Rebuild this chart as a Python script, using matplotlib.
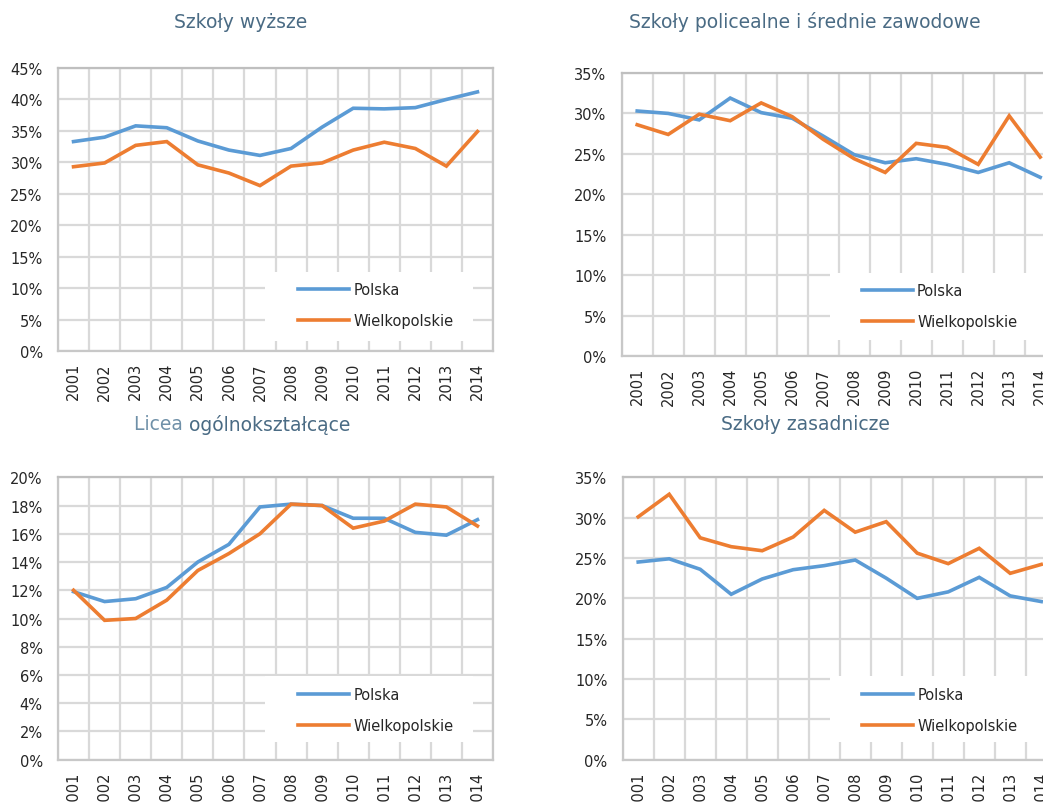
import matplotlib
matplotlib.use("Agg")
import matplotlib.pyplot as plt
from matplotlib.patches import Rectangle
from matplotlib.lines import Line2D
from matplotlib.ticker import MultipleLocator, FuncFormatter

years = [str(y) for y in range(2001, 2015)]

wyzsze_polska = [33.3, 34.0, 35.8, 35.5, 33.4, 31.95, 31.1, 32.2, 35.6, 38.6, 38.5, 38.7, 40.0, 41.2]
wyzsze_wlkp = [29.3, 29.9, 32.7, 33.3, 29.6, 28.3, 26.3, 29.4, 29.9, 31.95, 33.2, 32.2, 29.4, 34.9]

policealne_polska = [30.3, 30.0, 29.2, 31.9, 30.1, 29.4, 27.2, 24.9, 23.9, 24.4, 23.7, 22.7, 23.9, 22.1]
policealne_wlkp = [28.6, 27.4, 29.9, 29.1, 31.3, 29.6, 26.8, 24.4, 22.7, 26.3, 25.8, 23.7, 29.7, 24.6]

licea_polska = [11.9, 11.2, 11.4, 12.2, 14.0, 15.25, 17.9, 18.1, 18.0, 17.1, 17.1, 16.1, 15.9, 17.0]
licea_wlkp = [12.0, 9.87, 10.0, 11.3, 13.4, 14.6, 16.0, 18.1, 18.0, 16.4, 16.9, 18.1, 17.9, 16.55]

zasadnicze_polska = [24.5, 24.9, 23.6, 20.5, 22.4, 23.55, 24.05, 24.75, 22.5, 20.0, 20.8, 22.6, 20.3, 19.6]
zasadnicze_wlkp = [30.1, 32.9, 27.5, 26.4, 25.9, 27.6, 30.9, 28.2, 29.5, 25.6, 24.3, 26.2, 23.1, 24.2]

series_names = ["Polska", "Wielkopolskie"]

BLUE = "#5B9BD5"
ORANGE = "#ED7D31"
GRID = "#d9d9d9"
TITLE_C = "#4A6B84"
TEXT_C = "#262626"
LW = 2.6

W, H = 1043, 804
fig = plt.figure(figsize=(W / 100, H / 100), dpi=100)
fig.patch.set_facecolor("white")


def px_axes(left, top, right, bottom):
    return fig.add_axes([left / W, 1 - bottom / H, (right - left) / W, (bottom - top) / H])


def draw_panel(ax, pol, wlk, ymax, ystep, box, leg_center):
    x = list(range(len(years)))
    ax.set_xlim(-0.5, len(years) - 0.5)
    ax.set_ylim(0, ymax)
    ax.yaxis.set_major_locator(MultipleLocator(ystep))
    ax.yaxis.set_major_formatter(FuncFormatter(lambda v, p: f"{v:.0f}%"))
    ax.set_xticks(x)
    ax.set_xticklabels(years, rotation=90, fontsize=10.5, color=TEXT_C)
    ax.set_xticks([i - 0.5 for i in range(len(years) + 1)], minor=True)
    ax.tick_params(axis="x", which="both", length=0, pad=8)
    ax.tick_params(axis="y", length=0, pad=11, labelsize=10.5, labelcolor=TEXT_C)
    ax.grid(False)
    ax.grid(True, axis="y", which="major", color=GRID, lw=1.6, zorder=0)
    ax.grid(True, axis="x", which="minor", color=GRID, lw=1.6, zorder=0)
    for s in ax.spines.values():
        s.set_color("#c8c8c8")
        s.set_linewidth(1.6)
    ax.spines["top"].set_color("#bfbfbf")
    ax.set_axisbelow(True)
    # white legend background box
    x0, y0, x1, y1 = box
    ax.add_patch(Rectangle((x0, y0), x1 - x0, y1 - y0, transform=ax.transAxes,
                           facecolor="white", edgecolor="none", zorder=1.5, clip_on=False))
    ax.plot(x, pol, color=BLUE, lw=LW, zorder=3, solid_joinstyle="miter")
    ax.plot(x, wlk, color=ORANGE, lw=LW, zorder=3, solid_joinstyle="miter")
    handles = [Line2D([], [], color=BLUE, lw=LW), Line2D([], [], color=ORANGE, lw=LW)]
    leg = ax.legend(handles, series_names, loc="center left", bbox_to_anchor=leg_center,
                    frameon=False, fontsize=10.5, handlelength=3.5, handletextpad=0.3,
                    labelspacing=1.1, borderpad=0, borderaxespad=0)
    for t in leg.get_texts():
        t.set_color(TEXT_C)
    leg.set_zorder(4)


ax1 = px_axes(58, 69, 493, 352)
draw_panel(ax1, wyzsze_polska, wyzsze_wlkp, 45, 5, (0.476, 0.035, 0.954, 0.279), (0.552, 0.161))

ax2 = px_axes(621.7, 74, 621.7 + 434, 357)
draw_panel(ax2, policealne_polska, policealne_wlkp, 35, 5, (0.48, 0.058, 0.99, 0.293), (0.553, 0.178))

ax3 = px_axes(58, 478.3, 493, 760.7)
draw_panel(ax3, licea_polska, licea_wlkp, 20, 2, (0.476, 0.062, 0.954, 0.297), (0.552, 0.176))

ax4 = px_axes(622.7, 478.3, 622.7 + 434, 760.7)
draw_panel(ax4, zasadnicze_polska, zasadnicze_wlkp, 35, 5, (0.478, 0.062, 0.99, 0.297), (0.551, 0.176))

TS = 13.5
fig.text(240.8 / W, 1 - 22 / H, "Szkoły wyższe", ha="center", va="center", fontsize=TS, color=TITLE_C)
fig.text(805 / W, 1 - 22 / H, "Szkoły policealne i średnie zawodowe", ha="center", va="center", fontsize=TS, color=TITLE_C)
t1 = fig.text(134 / W, 1 - 425 / H, "Licea ", ha="left", va="center", fontsize=TS, color="#6F90A8")
fig.canvas.draw()
bb = t1.get_window_extent()
fig.text(bb.x1 / W, 1 - 425 / H, "ogólnokształcące", ha="left", va="center", fontsize=TS, color=TITLE_C)
fig.text(805 / W, 1 - 425 / H, "Szkoły zasadnicze", ha="center", va="center", fontsize=TS, color=TITLE_C)

fig.savefig("out.png", dpi=100, facecolor="white")
